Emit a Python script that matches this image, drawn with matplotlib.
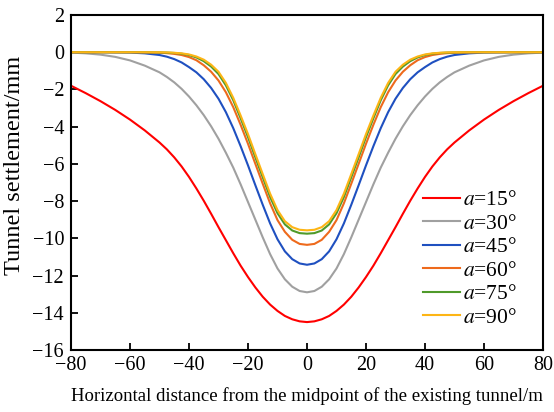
import numpy as np
import matplotlib
matplotlib.use('Agg')
import matplotlib.pyplot as plt

# horizontal distance (m), left half; curves are symmetric about 0
x_left = [-80, -75, -70, -65, -60, -55, -50, -47.5, -45, -42.5, -40, -37.5, -35, -32.5,
          -30, -27.5, -25, -22.5, -20, -17.5, -15, -12.5, -10, -7.5, -5, -2.5, 0]

s15 = [-1.80, -2.20, -2.63, -3.10, -3.62, -4.20, -4.85, -5.22, -5.65, -6.14, -6.70, -7.32, -7.98, -8.68,
       -9.40, -10.10, -10.80, -11.47, -12.08, -12.64, -13.14, -13.56, -13.90, -14.17, -14.35, -14.46, -14.50]
s30 = [-0.02, -0.06, -0.13, -0.25, -0.44, -0.72, -1.08, -1.33, -1.62, -1.97, -2.38, -2.85, -3.38, -3.98,
       -4.65, -5.40, -6.20, -7.10, -8.05, -9.00, -9.95, -10.85, -11.62, -12.20, -12.60, -12.83, -12.90]
s45 = [0.0, 0.0, 0.0, -0.01, -0.02, -0.06, -0.15, -0.24, -0.37, -0.55, -0.80, -1.08, -1.45, -1.92,
       -2.50, -3.22, -4.08, -5.05, -6.08, -7.15, -8.20, -9.20, -10.05, -10.70, -11.12, -11.35, -11.42]
s60 = [0.0, 0.0, 0.0, 0.0, 0.0, -0.01, -0.03, -0.05, -0.09, -0.15, -0.26, -0.43, -0.70, -1.05,
       -1.52, -2.15, -2.95, -3.90, -4.92, -6.00, -7.07, -8.12, -9.02, -9.65, -10.08, -10.30, -10.35]
s75 = [0.0, 0.0, 0.0, 0.0, 0.0, 0.0, -0.01, -0.02, -0.04, -0.08, -0.15, -0.28, -0.48, -0.77,
       -1.17, -1.78, -2.58, -3.55, -4.56, -5.65, -6.72, -7.78, -8.65, -9.25, -9.58, -9.72, -9.75]
s90 = [0.0, 0.0, 0.0, 0.0, 0.0, 0.0, 0.0, -0.01, -0.03, -0.06, -0.12, -0.23, -0.40, -0.67,
       -1.05, -1.65, -2.45, -3.40, -4.40, -5.48, -6.55, -7.60, -8.48, -9.08, -9.40, -9.54, -9.57]

labels = ['15', '30', '45', '60', '75', '90']
colors = ['#ff0000', '#a0a0a0', '#1f50c0', '#ee6a1c', '#4f9a2a', '#fdb515']


def mirror(v):
    return np.concatenate([v, v[-2::-1]])


x = np.concatenate([x_left, -np.array(x_left[-2::-1])])
series = [s15, s30, s45, s60, s75, s90]

plt.rcParams['font.family'] = ['Liberation Serif', 'DejaVu Serif']
plt.rcParams['mathtext.fontset'] = 'stix'

fig = plt.figure(figsize=(5.54, 4.12), dpi=100)
ax = fig.add_axes([71/554, 1 - 350/412, 472/554, 335/412])

for s, lab, c in zip(series, labels, colors):
    ax.plot(x, mirror(s), color=c, lw=1.5, label=r'$a$=' + lab + '°')

ax.set_xlim(-80, 80)
ax.set_ylim(-16, 2)
ax.set_xticks(np.arange(-80, 81, 20))
ax.set_yticks(np.arange(-16, 3, 2))
ax.tick_params(direction='in', length=5, width=1.3, labelsize=14.5,
               top=False, right=False)
ax.tick_params(axis='x', pad=4)
ax.tick_params(axis='y', pad=5)
for sp in ax.spines.values():
    sp.set_linewidth(1.5)

ax.set_xlabel('Horizontal distance from the midpoint of the existing tunnel/m',
              fontsize=13.5, labelpad=9)
ax.set_ylabel('Tunnel settlement/mm', fontsize=17.5)
ax.yaxis.set_label_coords(-0.098, 0.551)

leg = ax.legend(loc='upper left', bbox_to_anchor=(0.746, 0.477), frameon=False,
                fontsize=15.5, handlelength=1.7, handletextpad=0.15,
                labelspacing=0.16, borderpad=0, borderaxespad=0)

fig.savefig('out.png', dpi=100)
